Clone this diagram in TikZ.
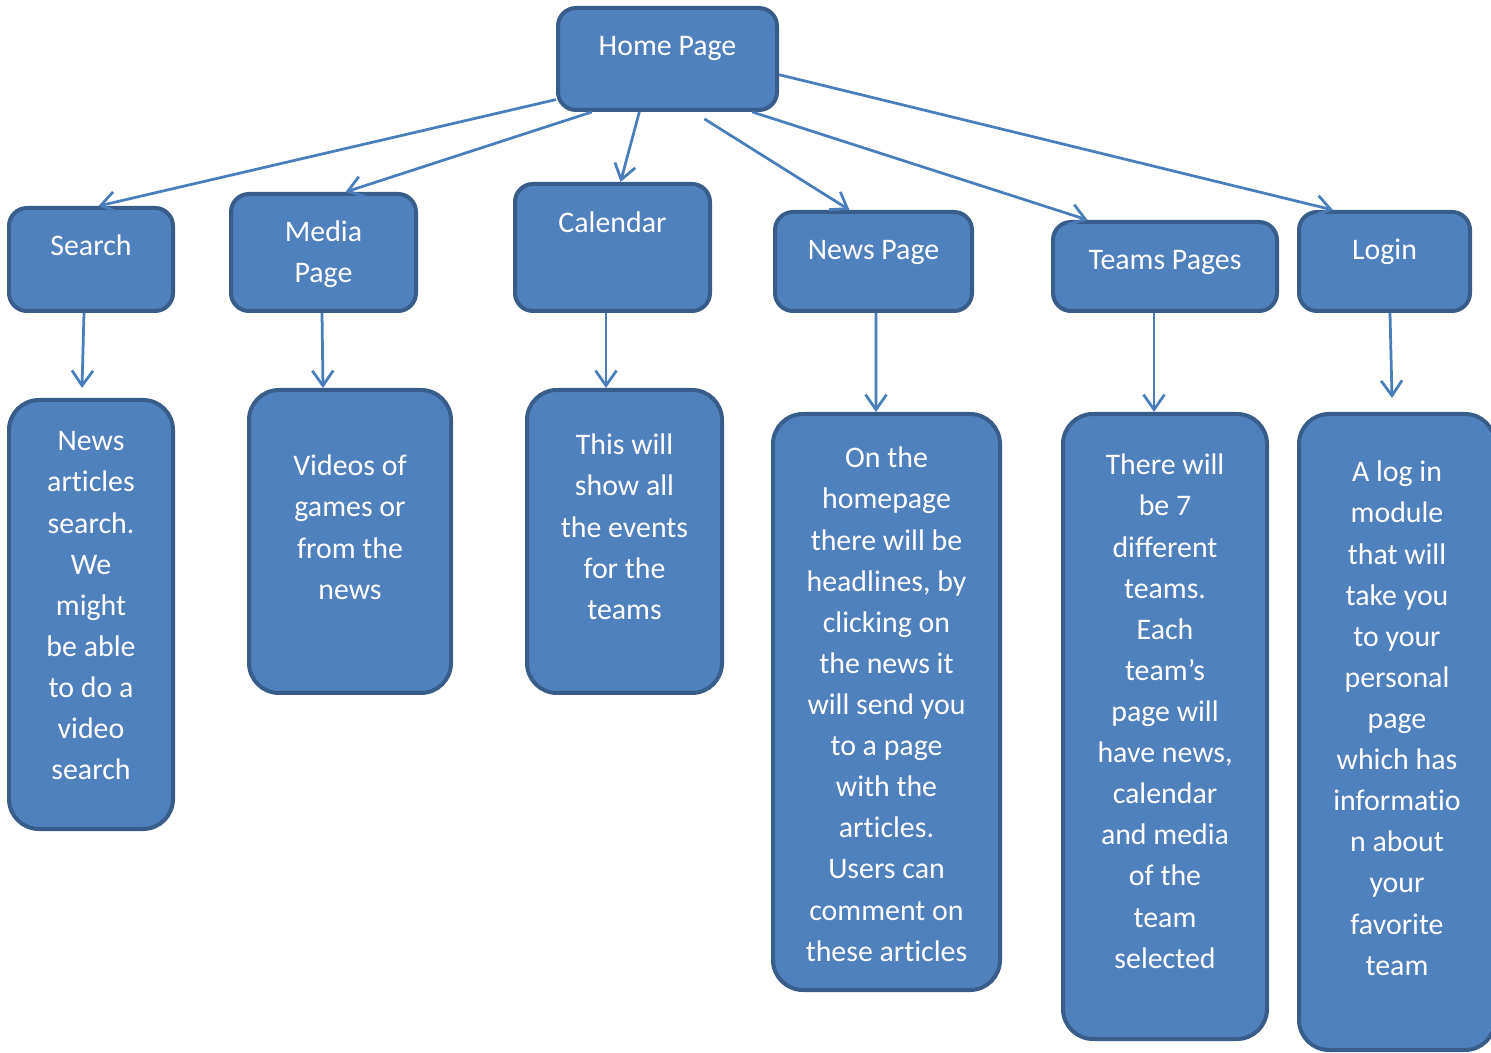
\documentclass[tikz,border=0pt]{standalone}
\usepackage{fontspec}
\setmainfont[Ligatures=NoCommon]{Carlito}
\usetikzlibrary{arrows.meta,positioning}
\newdimen\pxu \pxu=0.02cm
\newcommand{\tiletext}[4]{\parbox[c][#2\pxu][t]{#1\pxu}{\centering\vspace*{#3\pxu}\strut #4\par}}
\definecolor{tilefill}{HTML}{4F81BD}
\definecolor{tileedge}{HTML}{385D8A}
\definecolor{linkblue}{HTML}{4A7EBB}

\begin{document}
\begin{tikzpicture}[x=0.02cm, y=-0.02cm,
	tile/.style={draw=tileedge, fill=tilefill, line width=0.08cm, rounded corners=0.36cm,
		inner sep=0pt, text=white, font=\fontsize{17}{23.4}\selectfont},
	infotile/.style={tile, rounded corners=0.6cm},
	link/.style={draw=linkblue, line width=0.055cm, -{Straight Barb[length=0.3cm,width=0.42cm]}}]
	\useasboundingbox (0,0) rectangle (1491,1053);
	\clip (0,0) rectangle (1491,1053);
	% main page and sections
	\node[tile] (home) at (667.5,59) {\tiletext{219}{102}{19}{Home Page}};
	\node[tile] (search) at (91,259.5) {\tiletext{164}{103}{19}{Search}};
	\node[tile] (media) at (323.5,252.5) {\tiletext{185}{117}{19}{Media\\Page}};
	\node[tile] (calendar) at (612.5,247.5) {\tiletext{195}{127}{20}{Calendar}};
	\node[tile] (newspage) at (873.5,261.5) {\tiletext{197}{99}{19}{News Page}};
	\node[tile] (teams) at (1165,266.5) {\tiletext{224}{89}{19}{Teams Pages}};
	\node[tile] (login) at (1384.5,261.5) {\tiletext{171}{99}{19}{Login}};
	% descriptions
	\node[infotile] (searchinfo) at (91,614.5) {\tiletext{164}{429}{22}{News\\articles\\search.\\We\\might\\be able\\to do a\\video\\search}};
	\node[infotile] (mediainfo) at (350,541.5) {\tiletext{202}{303}{57}{Videos of\\games or\\from the\\news}};
	\node[infotile] (calinfo) at (624.5,541.5) {\tiletext{195}{303}{36}{This will\\show all\\the events\\for the\\teams}};
	\node[infotile] (newsinfo) at (886.5,702) {\tiletext{227}{576}{25}{On the\\homepage\\there will be\\headlines, by\\clicking on\\the news it\\will send you\\to a page\\with the\\articles.\\Users can\\comment on\\these articles}};
	\node[infotile] (teamsinfo) at (1165,726.5) {\tiletext{204}{625}{32}{There will\\be 7\\different\\teams.\\Each\\team’s\\page will\\have news,\\calendar\\and media\\of the\\team\\selected}};
	\node[infotile] (logininfo) at (1397,732) {\tiletext{196}{636}{39}{A log in\\module\\that will\\take you\\to your\\personal\\page\\which has\\informatio\\n about\\your\\favorite\\team}};
	% links from the home page
	\draw[link] (home.200) -- (search.82);
	\draw[link] (home.215) -- (media.70);
	\draw[link] (home.242) -- (calendar.83);
	\draw[link, shorten <=0.26cm] (home.296) -- (newspage.115);
	\draw[link] (home.328) -- (teams.149);
	\draw[link] (home.352) -- (login.135);
	% links down to the descriptions
	\draw[link] ([shift={(-7,0)}]search.south) -- ([shift={(-9,-10)}]searchinfo.north);
	\draw[link] ([shift={(-1.5,0)}]media.south) -- ([shift={(-27,0)}]mediainfo.north);
	\draw[link] ([shift={(-6.5,0)}]calendar.south) -- ([shift={(-18.5,0)}]calinfo.north);
	\draw[link] ([shift={(2.5,0)}]newspage.south) -- ([shift={(-10.5,0)}]newsinfo.north);
	\draw[link] ([shift={(-11,0)}]teams.south) -- ([shift={(-11,0)}]teamsinfo.north);
	\draw[link] ([shift={(5.5,0)}]login.south) -- ([shift={(-5,-14)}]logininfo.north);
\end{tikzpicture}
\end{document}
